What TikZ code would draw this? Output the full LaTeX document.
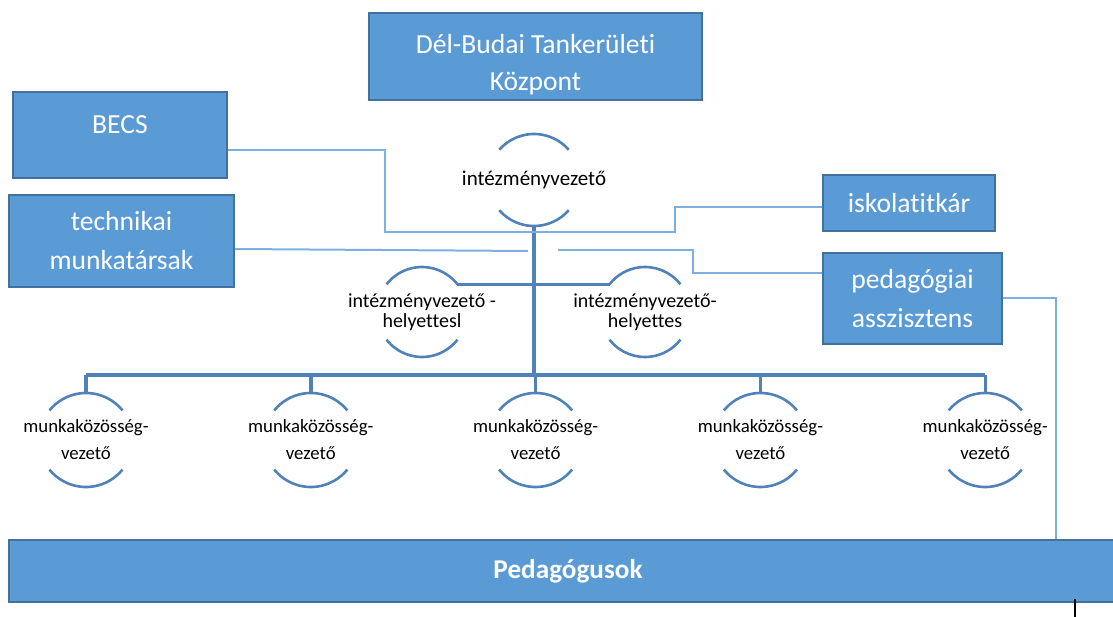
\documentclass[tikz,border=0pt]{standalone}
\usepackage{fontspec}
\setmainfont{Carlito}[Ligatures=NoCommon]
\usepackage{xcolor}
\usetikzlibrary{positioning}

\definecolor{boxfill}{RGB}{91,155,213}
\definecolor{boxline}{RGB}{65,113,156}
\definecolor{treeline}{RGB}{80,130,185}
\definecolor{linkline}{RGB}{125,175,225}

\begin{document}
\begin{tikzpicture}
		[x=0.5pt,y=0.5pt,
		unit/.style={rectangle,draw=boxline,fill=boxfill,line width=1.2pt,text=white,align=center,inner sep=0pt,font=\fontsize{13.8}{19.5}\selectfont},
		unittext/.style={text=white,align=center,inner sep=0pt,font=\fontsize{13.8}{18.5}\selectfont},
		role/.style={inner sep=0pt,align=center,font=\fontsize{10.5}{13.5}\selectfont},
		deputy/.style={role,font=\fontsize{10}{9.8}\selectfont},
		leader/.style={role,minimum width=80pt,font=\fontsize{9.4}{13.5}\selectfont},
		tree/.style={draw=treeline,line width=1.7pt},
		bow/.style={draw=treeline,line width=1.3pt},
		link/.style={draw=linkline,line width=1pt}]
		\useasboundingbox (0,0) rectangle (1113,616);

		\node [unit,minimum width=166.5pt,minimum height=43.5pt,
			label={[unittext,yshift=-4pt]center:Dél-Budai Tankerületi\\Központ}] (tk) at (535.5,559.5) {};
		\node [unit,minimum width=107pt,inner ysep=11.5pt,text height=9.5pt,text depth=10.5pt] (becs) at (120,481) {BECS};
		\node [unit,minimum width=112.5pt,minimum height=46pt] (tech) at (121.5,375) {technikai\\munkatársak};
		\node [unit,minimum width=86pt,minimum height=28pt] (isk) at (909,413) {iskolatitkár};
		\node [unit,minimum width=89.5pt,minimum height=45.5pt] (ped) at (912.5,317.5) {pedagógiai\\asszisztens};
		\node [unit,minimum width=559pt,minimum height=31pt,font=\fontsize{13.6}{16}\selectfont\bfseries] (pg) at (568,45) {Pedagógusok};

		\node [role] (iv) at (534,436) {intézményvezető};
		\node [deputy] (d1) at (422,304) {intézményvezető -\\helyettesl};
		\node [deputy] (d2) at (645,304) {intézményvezető-\\helyettes};

		\node [leader] (mk1) at (86,176) {munkaközösség-\\vezető};
		\node [leader] (mk2) [right=32pt of mk1] {munkaközösség-\\vezető};
		\node [leader] (mk3) [right=32pt of mk2] {munkaközösség-\\vezető};
		\node [leader] (mk4) [right=32pt of mk3] {munkaközösség-\\vezető};
		\node [leader] (mk5) [right=32pt of mk4] {munkaközösség-\\vezető};

		\draw [bow] ([shift={(41:23pt)}]iv.center) arc [start angle=41,end angle=139,radius=23pt];
		\draw [bow] ([shift={(221:23pt)}]iv.center) arc [start angle=221,end angle=319,radius=23pt];
		\foreach \d in {d1,d2} {
			\draw [bow] ([shift={(38:22.5pt)}]\d.center) arc [start angle=38,end angle=142,radius=22.5pt];
			\draw [bow] ([shift={(218:22.5pt)}]\d.center) arc [start angle=218,end angle=322,radius=22.5pt];
		}
		\foreach \i in {1,...,5} {
			\draw [bow] ([shift={(39:23.5pt)}]mk\i.center) arc [start angle=39,end angle=141,radius=23.5pt];
			\draw [bow] ([shift={(219:23.5pt)}]mk\i.center) arc [start angle=219,end angle=321,radius=23.5pt];
		}

		\coordinate (bus) at (534,241);
		\coordinate (hub) at (534,384);
		\draw [tree] ([yshift=-23pt]iv.center) -- (bus);
		\draw [tree] ([shift={(38:22.5pt)}]d1.center) -- ([shift={(142:22.5pt)}]d2.center);
		\draw [tree] (mk1.center |- bus) -- (mk5.center |- bus);
		\foreach \i in {1,...,5}
			\draw [tree] (mk\i.center |- bus) -- ([yshift=23.5pt]mk\i.center);

		\coordinate (techend) at (528,365);
		\coordinate (pedend) at (558,366);
		\draw [link] ([yshift=-7.5pt]becs.east) -- ++(78.5pt,0) |- (hub);
		\draw [link] (hub) -- ++(70.5pt,0) |- ([yshift=-2pt]isk.west);
		\draw [link] ([yshift=-4pt]tech.east) -- (techend);
		\draw [link] (pedend) -- ++(67.5pt,0) |- ([yshift=12.75pt]ped.west);
		\draw [link] (ped.east) -| ([xshift=244pt]pg.north);
		\draw [black,line width=0.6pt] ([xshift=253.5pt,yshift=2pt]pg.south) -- ++(0,-9pt);

	\end{tikzpicture}
\end{document}
